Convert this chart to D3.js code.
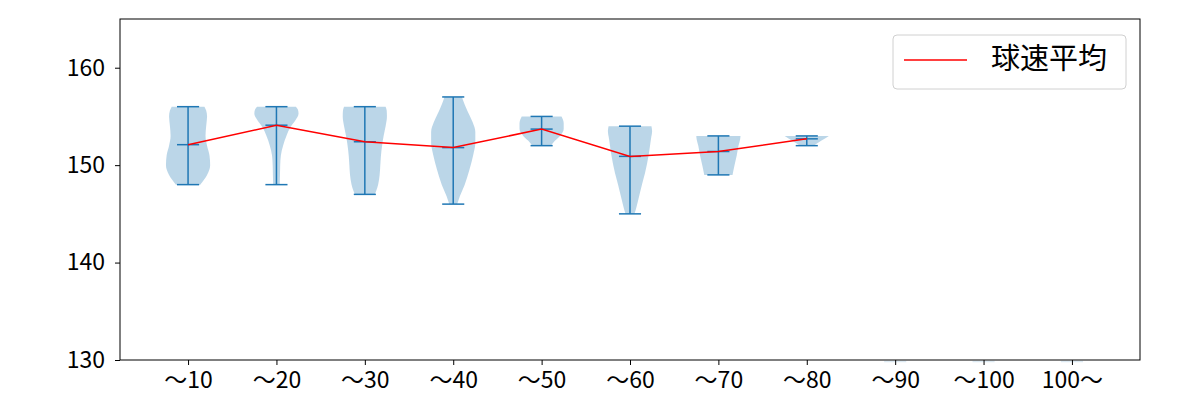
<!DOCTYPE html>
<html>
<head>
<meta charset="utf-8">
<script src="https://cdn.jsdelivr.net/npm/d3@7"></script>
<style>
  html, body { margin: 0; padding: 0; background: #fff; }
  svg { display: block; }
  text { font-family: "Noto Sans CJK JP", "Noto Sans", sans-serif; }
</style>
</head>
<body>
<svg id="chart" width="1200" height="400"></svg>
<script>
// ---- data ----
const categories = ["〜10", "〜20", "〜30", "〜40", "〜50", "〜60", "〜70", "〜80", "〜90", "〜100", "100〜"];
const minSpeed  = [148, 148, 147, 146, 152, 145, 149, 152, null, null, null];
const maxSpeed  = [156, 156, 156, 157, 155, 154, 153, 153, null, null, null];
const meanSpeed = [152.1, 154.1, 152.4, 151.8, 153.7, 150.9, 151.4, 152.7, null, null, null];
// density profiles: [speed, relative half-width]
const density10 = [[148,0.55],[148.5,0.72],[149,0.86],[150,1.0],[151,0.97],[152,0.86],[153,0.79],[154,0.82],[155,0.86],[155.6,0.82],[156,0.74]];
const density20 = [[148,0.15],[149,0.16],[150,0.17],[151,0.2],[152,0.3],[153,0.45],[154,0.66],[154.6,0.86],[155.3,1.0],[155.7,0.97],[156,0.88]];
const density30 = [[147,0.45],[147.4,0.52],[148,0.6],[149,0.67],[150,0.7],[151,0.73],[152,0.78],[153,0.85],[154,0.94],[155,1.0],[155.6,0.99],[156,0.94]];
const density40 = [[146,0.18],[146.8,0.3],[148,0.52],[149.5,0.73],[151,0.9],[152.3,1.0],[153.4,1.0],[154.4,0.88],[155.2,0.72],[155.9,0.58],[156.5,0.47],[157,0.4]];
const density50 = [[152,0.42],[152.5,0.6],[153,0.83],[153.7,1.0],[154.3,1.0],[154.7,0.96],[155,0.9]];
const density60 = [[145,0.2],[145.5,0.27],[146.5,0.38],[148,0.54],[149.2,0.68],[151,0.84],[152.7,0.95],[153.5,1.0],[154,0.97]];
const density70 = [[149,0.64],[150,0.73],[151,0.83],[152,0.91],[152.6,0.98],[153,1.0]];
const density80 = [[152,0.3],[152.5,0.65],[153,1.0]];
const densities = [density10, density20, density30, density40, density50, density60, density70, density80, null, null, null];
const yTicks = [130, 140, 150, 160];
const legendLabel = "球速平均";

// ---- layout ----
const svg = d3.select("#chart");
const margin = { left: 120, right: 60, top: 19, bottom: 40 };
const W = 1200, H = 400;
const plotL = margin.left, plotR = W - margin.right, plotT = margin.top, plotB = H - margin.bottom;

const positions = categories.map((_, i) => i + 1);
const x = d3.scaleLinear().domain([0.23, 11.77]).range([plotL, plotR]);
const y = d3.scaleLinear().domain([130, 165]).range([plotB, plotT]);

const blue = "#1f77b4";
const halfW = x(1.25) - x(1);      // violin half width (widths = 0.5)
const capW = x(1.125) - x(1);      // cap half width

const g = svg.append("g");

// violin bodies
const area = d3.area()
  .curve(d3.curveMonotoneY);

densities.forEach((dens, i) => {
  const cx = x(positions[i]);
  if (!dens) {
    g.append("line")
      .attr("x1", cx - capW).attr("x2", cx + capW)
      .attr("y1", y(130) + 1.5).attr("y2", y(130) + 1.5)
      .attr("stroke", blue).attr("stroke-opacity", 0.15).attr("stroke-width", 1.5);
    return;
  }
  area.y(d => y(d[0])).x0(d => cx - d[1] * halfW).x1(d => cx + d[1] * halfW);
  g.append("path")
    .attr("d", area(dens))
    .attr("fill", blue)
    .attr("fill-opacity", 0.3);
});

// extrema + mean lines
positions.forEach((p, i) => {
  if (minSpeed[i] == null) return;
  const cx = x(p);
  const lg = g.append("g").attr("stroke", blue).attr("stroke-width", 1.5);
  lg.append("line").attr("x1", cx).attr("x2", cx).attr("y1", y(minSpeed[i])).attr("y2", y(maxSpeed[i]));
  [minSpeed[i], maxSpeed[i], meanSpeed[i]].forEach(v => {
    lg.append("line").attr("x1", cx - capW).attr("x2", cx + capW).attr("y1", y(v)).attr("y2", y(v));
  });
});

// mean line
const meanPts = positions.map((p, i) => [p, meanSpeed[i]]).filter(d => d[1] != null);
g.append("path")
  .attr("d", d3.line().x(d => x(d[0])).y(d => y(d[1]))(meanPts))
  .attr("fill", "none")
  .attr("stroke", "red")
  .attr("stroke-width", 1.5);

// axes
const xAxis = d3.axisBottom(x).tickValues(positions).tickFormat((d, i) => categories[i]).tickSizeOuter(0).tickSize(5).tickPadding(7);
const yAxis = d3.axisLeft(y).tickValues(yTicks).tickSizeOuter(0).tickSize(5).tickPadding(10);

const gx = svg.append("g").attr("transform", `translate(0,${plotB})`).call(xAxis);
const gy = svg.append("g").attr("transform", `translate(${plotL},0)`).call(yAxis);
[gx, gy].forEach(ax => {
  ax.select(".domain").remove();
  ax.selectAll(".tick line").attr("stroke", "#000").attr("stroke-width", 1);
  ax.selectAll(".tick text").attr("fill", "#000").style("font-size", "23px");
});

// frame
svg.append("rect")
  .attr("x", plotL).attr("y", plotT)
  .attr("width", plotR - plotL).attr("height", plotB - plotT)
  .attr("fill", "none").attr("stroke", "#000").attr("stroke-width", 1);

// legend
const lgd = svg.append("g");
lgd.append("rect")
  .attr("x", 893).attr("y", 35).attr("width", 233).attr("height", 54)
  .attr("rx", 4).attr("fill", "#fff").attr("fill-opacity", 0.8)
  .attr("stroke", "#d0d0d0").attr("stroke-width", 1);
lgd.append("line")
  .attr("x1", 904).attr("x2", 967).attr("y1", 60).attr("y2", 60)
  .attr("stroke", "red").attr("stroke-width", 1.5);
lgd.append("text")
  .attr("x", 991).attr("y", 61).attr("dominant-baseline", "middle")
  .style("font-size", "29px").attr("fill", "#000")
  .text(legendLabel);
</script>
</body>
</html>
